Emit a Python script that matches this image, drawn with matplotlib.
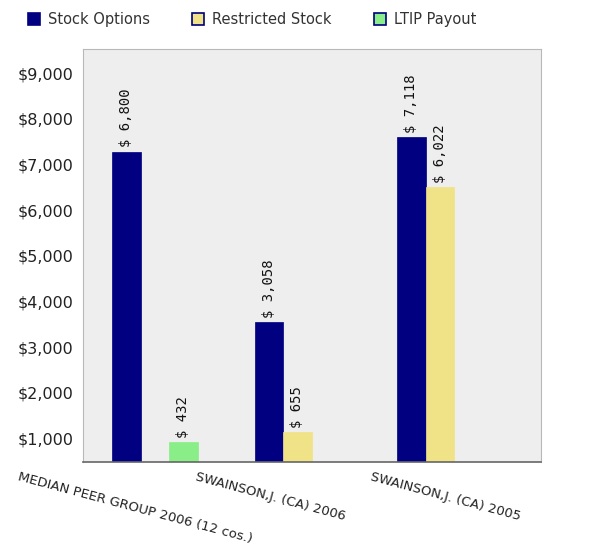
import numpy as np
import matplotlib
matplotlib.use("Agg")
import matplotlib.pyplot as plt
from matplotlib.patches import Patch
from matplotlib.transforms import ScaledTranslation

categories = ["MEDIAN PEER GROUP 2006 (12 cos.)", "SWAINSON,J. (CA) 2006", "SWAINSON,J. (CA) 2005"]
stock_options = [6800, 3058, 7118]
restricted_stock = [None, 655, 6022]
ltip_payout = [432, None, None]

series = [
    ("Stock Options", stock_options, "#000080"),
    ("Restricted Stock", restricted_stock, "#f0e287"),
    ("LTIP Payout", ltip_payout, "#8aee88"),
]

base = 485
fig = plt.figure(figsize=(5.91, 5.46), dpi=100)
ax = fig.add_axes([83 / 591, 1 - 462 / 546, 458 / 591, 413 / 546])
ax.set_facecolor("#eeeeee")

x = np.arange(len(categories))
w = 0.2
for i, (name, vals, color) in enumerate(series):
    for xi, v in zip(x, vals):
        if v is None:
            continue
        xc = xi + (i - 1) * w
        ax.bar(xc, v, width=w, bottom=base, color=color, edgecolor=color, linewidth=0.5)
        ax.annotate(f"$ {v:,}", (xc, base + v), xytext=(0, 3), textcoords="offset points",
                    rotation=90, ha="center", va="bottom", fontsize=10,
                    family="DejaVu Sans Mono", color="#111111")

ax.set_xlim(-0.505, 2.71)
ax.set_ylim(base, 9530)
ax.set_yticks(range(1000, 10000, 1000))
ax.set_yticklabels([f"${t:,}" for t in range(1000, 10000, 1000)], fontsize=11.5, color="#222222")
ax.tick_params(axis="y", length=0, pad=7)
ax.set_xticks(x)
ax.set_xticklabels(categories, rotation=-15, rotation_mode="anchor", ha="left", va="top",
                   fontsize=9.5, color="#222222")
ax.tick_params(axis="x", length=0, pad=6)
offsets = [-135, -100, -67]
for lbl, dx in zip(ax.get_xticklabels(), offsets):
    lbl.set_transform(lbl.get_transform() + ScaledTranslation(dx / 100, 0, fig.dpi_scale_trans))

for side in ["top", "left", "right"]:
    ax.spines[side].set_color("#b8b8b8")
ax.spines["bottom"].set_color("#666666")
ax.spines["bottom"].set_linewidth(1.2)

handles = [
    Patch(facecolor=c, edgecolor="#000080", linewidth=1.2, label=n) for n, _, c in series
]
fig.legend(handles=handles, loc="upper left", bbox_to_anchor=(0.026, 1.002), ncol=3,
           frameon=False, fontsize=10.5, handlelength=0.8, handleheight=0.8,
           handletextpad=0.55, columnspacing=2.9, labelcolor="#333333")

fig.savefig("out.png", dpi=100)
